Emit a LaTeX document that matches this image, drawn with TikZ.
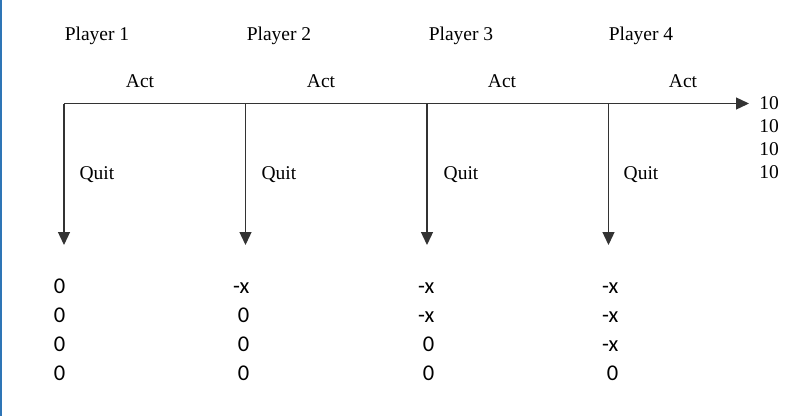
\documentclass[tikz,border=0pt]{standalone}
\usepackage{fontspec}
\setmainfont{Liberation Serif}
\newfontfamily\payfont{Carlito}
\usetikzlibrary{arrows.meta}
\definecolor{edgeblue}{RGB}{46,117,182}
\begin{document}
\begin{tikzpicture}[x=1pt,y=-1pt,
  lbl/.style={font=\fontsize{19.5}{23}\selectfont, inner sep=0pt, anchor=base},
  pay/.style={font=\payfont\fontsize{22.5}{28.7}\selectfont, inner sep=0pt, align=right, anchor=base east},
  tree/.style={line width=1.3pt, draw=black!80, -{Triangle[length=13pt,width=12pt]}}
]
\useasboundingbox (0,0) rectangle (792,416);
\fill[edgeblue] (0,0) rectangle (2,416);

% players
\foreach \i/\x in {1/97,2/279,3/461,4/641}{
  \node[lbl] (p\i) at (\x,40) {Player \i};
}
% act labels
\foreach \i/\x in {1/140,2/321,3/502,4/683}{
  \node[lbl] (a\i) at (\x,87) {Act};
}
% quit labels
\foreach \i/\x in {1/97,2/279,3/461,4/641}{
  \node[lbl] (q\i) at (\x,179) {Quit};
}
% decision points
\foreach \i/\x in {1/64,2/245.5,3/427,4/608.5}{
  \coordinate (v\i) at (\x,103.5);
  \coordinate (e\i) at (\x,245);
}
\coordinate (hend) at (749,103.5);
\draw[tree] (v1) -- (hend);
\foreach \i in {1,...,4}{
  \draw[tree] (v\i) -- (e\i);
}
% final payoff
\foreach \j/\y in {1/109.5,2/132.5,3/155,4/178}{
  \node[lbl] (t\j) at (769,\y) {10};
}
% quit payoffs
\node[pay] (r1) at (65.5,380) {0\\0\\0\\0};
\node[pay] (r2) at (249.5,380) {-x\\0\\0\\0};
\node[pay] (r3) at (434.5,380) {-x\\-x\\0\\0};
\node[pay] (r4) at (618.5,380) {-x\\-x\\-x\\0};
\end{tikzpicture}
\end{document}
